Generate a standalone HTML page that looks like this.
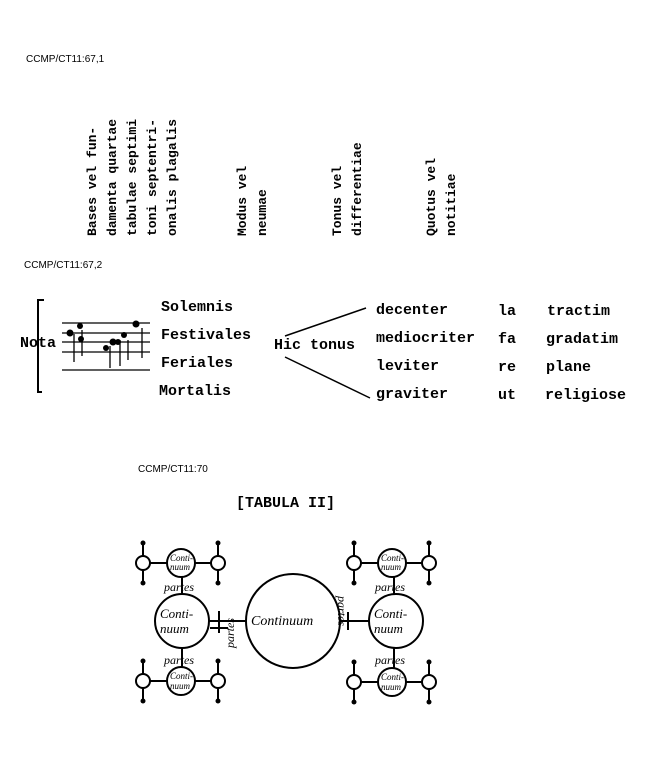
<!DOCTYPE html><html><head><style>
body{margin:0;background:#fff;width:667px;height:776px;overflow:hidden}
svg{display:block}
.t{font-family:"Liberation Mono",monospace;font-size:15px;font-weight:bold;fill:#000}
.s{font-family:"Liberation Sans",sans-serif;font-size:10px;fill:#000}
.h{font-family:"Liberation Serif",serif;font-style:italic;font-size:12px;fill:#000}
</style></head><body>
<svg width="667" height="776" viewBox="0 0 667 776" xmlns="http://www.w3.org/2000/svg">
<text class="s" x="26" y="62">CCMP/CT11:67,1</text>
<g class="t" style="font-size:13px">
<text transform="translate(96,236) rotate(-90)">Bases vel fun-</text>
<text transform="translate(116,236) rotate(-90)">damenta quartae</text>
<text transform="translate(136,236) rotate(-90)">tabulae septimi</text>
<text transform="translate(156,236) rotate(-90)">toni septentri-</text>
<text transform="translate(176,236) rotate(-90)">onalis plagalis</text>
<text transform="translate(246,236) rotate(-90)">Modus vel</text>
<text transform="translate(266,236) rotate(-90)">neumae</text>
<text transform="translate(341,236) rotate(-90)">Tonus vel</text>
<text transform="translate(361,236) rotate(-90)">differentiae</text>
<text transform="translate(435,236) rotate(-90)">Quotus vel</text>
<text transform="translate(455,236) rotate(-90)">notitiae</text>
</g>
<text class="s" x="24" y="268">CCMP/CT11:67,2</text>
<g stroke="#000" stroke-width="2" fill="none">
<path d="M44 300 H38 V392 H42"/>
</g>
<g stroke="#000" stroke-width="1.3">
<line x1="62" y1="323" x2="150" y2="323"/><line x1="62" y1="333" x2="150" y2="333"/>
<line x1="62" y1="342" x2="150" y2="342"/><line x1="62" y1="352" x2="150" y2="352"/>
<line x1="62" y1="370" x2="150" y2="370"/>
<line x1="74" y1="334" x2="74" y2="362"/><line x1="110" y1="346" x2="110" y2="368"/>
<line x1="120" y1="340" x2="120" y2="366"/><line x1="128" y1="340" x2="128" y2="360"/>
<line x1="142" y1="328" x2="142" y2="358"/><line x1="82" y1="330" x2="82" y2="356"/>
</g>
<g fill="#000"><circle cx="70" cy="333" r="3.5"/><circle cx="80" cy="326" r="3"/><circle cx="81" cy="339" r="3"/>
<circle cx="106" cy="348" r="3"/><circle cx="113" cy="342" r="3.5"/><circle cx="118" cy="342" r="3"/><circle cx="124" cy="335" r="3"/><circle cx="136" cy="324" r="3.5"/></g>
<g class="t">
<text x="20" y="347">Nota</text>
<text x="161" y="311">Solemnis</text><text x="161" y="339">Festivales</text>
<text x="161" y="367">Feriales</text><text x="159" y="395">Mortalis</text>
<text x="274" y="349">Hic tonus</text>
<text x="376" y="314">decenter</text><text x="376" y="342">mediocriter</text>
<text x="376" y="370">leviter</text><text x="376" y="398">graviter</text>
<text x="498" y="315">la</text><text x="498" y="343">fa</text><text x="498" y="371">re</text><text x="498" y="399">ut</text>
<text x="547" y="315">tractim</text><text x="546" y="343">gradatim</text><text x="546" y="371">plane</text><text x="545" y="399">religiose</text>
<text x="236" y="507">[TABULA II]</text>
</g>
<g stroke="#000" stroke-width="1.5"><line x1="285" y1="336" x2="366" y2="308"/><line x1="285" y1="357" x2="370" y2="398"/></g>
<text class="s" x="138" y="472">CCMP/CT11:70</text>
<g stroke="#000" stroke-width="2" fill="none">
<circle cx="293" cy="621" r="47"/>
<circle cx="182" cy="621" r="27"/><circle cx="396" cy="621" r="27"/>
<line x1="209" y1="621" x2="246" y2="621"/><line x1="340" y1="621" x2="369" y2="621"/>
<line x1="219" y1="611" x2="219" y2="633"/><line x1="210" y1="628" x2="228" y2="628"/>
<line x1="348" y1="612" x2="348" y2="630"/><line x1="340" y1="621" x2="356" y2="621"/>
<line x1="182" y1="577" x2="182" y2="594"/><line x1="182" y1="648" x2="182" y2="667"/>
<line x1="394" y1="577" x2="394" y2="594"/><line x1="394" y1="648" x2="394" y2="668"/>
</g>
<g stroke="#000" stroke-width="2" fill="none" id="grp">
<circle cx="181" cy="563" r="14"/><circle cx="143" cy="563" r="7"/><circle cx="218" cy="563" r="7"/>
<line x1="150" y1="563" x2="167" y2="563"/><line x1="195" y1="563" x2="211" y2="563"/>
<line x1="143" y1="543" x2="143" y2="556"/><line x1="143" y1="570" x2="143" y2="583"/>
<line x1="218" y1="543" x2="218" y2="556"/><line x1="218" y1="570" x2="218" y2="583"/>
</g>
<g fill="#000"><circle cx="143" cy="543" r="2.5"/><circle cx="143" cy="583" r="2.5"/><circle cx="218" cy="543" r="2.5"/><circle cx="218" cy="583" r="2.5"/></g>
<use href="#grp" x="0" y="118"/><use href="#grp" x="211" y="0"/><use href="#grp" x="211" y="119"/>
<g fill="#000"><circle cx="143" cy="661" r="2.5"/><circle cx="143" cy="701" r="2.5"/><circle cx="218" cy="661" r="2.5"/><circle cx="218" cy="701" r="2.5"/>
<circle cx="354" cy="543" r="2.5"/><circle cx="354" cy="583" r="2.5"/><circle cx="429" cy="543" r="2.5"/><circle cx="429" cy="583" r="2.5"/>
<circle cx="354" cy="662" r="2.5"/><circle cx="354" cy="702" r="2.5"/><circle cx="429" cy="662" r="2.5"/><circle cx="429" cy="702" r="2.5"/></g>
<g class="h">
<text x="251" y="625" font-size="14">Continuum</text>
<text x="160" y="618" font-size="13">Conti-</text><text x="160" y="633" font-size="13">nuum</text>
<text x="374" y="618" font-size="13">Conti-</text><text x="374" y="633" font-size="13">nuum</text>
<text x="170" y="561" font-size="9">Conti-</text><text x="170" y="570" font-size="9">nuum</text>
<text x="170" y="679" font-size="9">Conti-</text><text x="170" y="689" font-size="9">nuum</text>
<text x="381" y="561" font-size="9">Conti-</text><text x="381" y="570" font-size="9">nuum</text>
<text x="381" y="680" font-size="9">Conti-</text><text x="381" y="690" font-size="9">nuum</text>
<text x="164" y="591">partes</text><text x="164" y="664">partes</text>
<text x="375" y="591">partes</text><text x="375" y="664">partes</text>
<text transform="translate(234,648) rotate(-90)">partes</text>
<text transform="translate(338,596) rotate(90)">partes</text>
</g>
</svg></body></html>
